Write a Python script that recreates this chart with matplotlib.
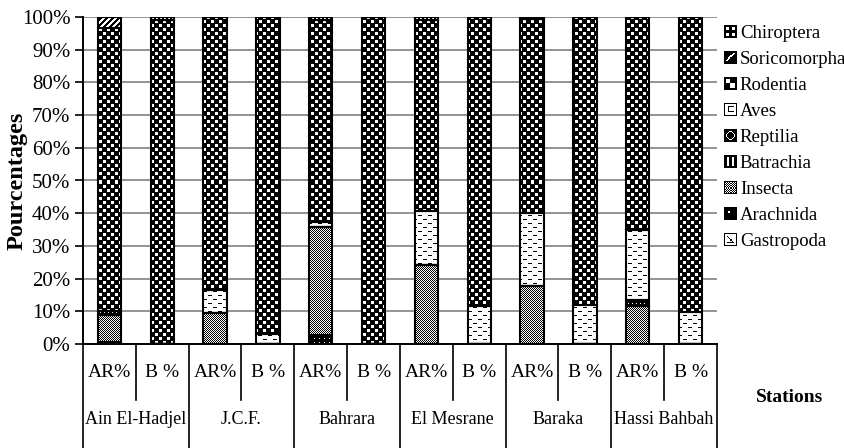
import matplotlib
matplotlib.use("Agg")
import matplotlib.pyplot as plt
import numpy as np
from matplotlib.patches import Rectangle
from matplotlib.path import Path
from matplotlib.legend_handler import HandlerBase
from matplotlib.image import BboxImage
from matplotlib.transforms import Bbox, TransformedBbox
from matplotlib.colors import Normalize

plt.rcParams['font.family'] = ['Liberation Serif', 'DejaVu Serif']

stations = ["Ain El-Hadjel", "J.C.F.", "Bahrara", "El Mesrane", "Baraka", "Hassi Bahbah"]
groups = ["AR%", "B %"]

# percentages, one value per bar (AR%, B% for each station)
gastropoda   = [0.0, 0.0, 0.0, 0.0, 0.0, 0.0, 0.0, 0.0, 0.0, 0.0, 0.0, 0.0]
arachnida    = [0.6, 0.0, 0.0, 0.0, 2.7, 0.0, 0.0, 0.0, 0.0, 0.0, 0.0, 0.0]
insecta      = [8.4, 0.0, 9.5, 0.0, 33.0, 0.0, 24.2, 0.0, 17.8, 0.0, 11.6, 0.0]
batrachia    = [0.0, 0.0, 0.0, 0.0, 0.0, 0.0, 0.0, 0.0, 0.0, 0.0, 0.0, 0.0]
reptilia     = [1.2, 0.0, 0.0, 0.0, 0.0, 0.0, 0.0, 0.0, 0.0, 0.0, 1.8, 0.0]
aves         = [0.0, 0.0, 7.0, 3.2, 1.5, 0.0, 16.5, 11.7, 22.2, 12.0, 21.5, 9.8]
rodentia     = [86.4, 99.0, 83.5, 96.8, 62.0, 100.0, 58.3, 88.3, 59.4, 88.0, 65.1, 90.2]
soricomorpha = [3.4, 0.0, 0.0, 0.0, 0.0, 0.0, 0.0, 0.0, 0.0, 0.0, 0.0, 0.0]
chiroptera   = [0.0, 1.0, 0.0, 0.0, 0.8, 0.0, 1.0, 0.0, 0.6, 0.0, 0.0, 0.0]

names = ["Gastropoda", "Arachnida", "Insecta", "Batrachia", "Reptilia",
         "Aves", "Rodentia", "Soricomorpha", "Chiroptera"]
series = [gastropoda, arachnida, insecta, batrachia, reptilia,
          aves, rodentia, soricomorpha, chiroptera]


# --- pixel textures (1 = white, 0 = black) ---
def checker(n):
    i, j = np.indices((2 * n, 2 * n))
    return ((i // n + j // n) % 2).astype(float)

def bold_checker():
    # white squares a bit smaller than the black ones
    t = np.zeros((8, 8))
    t[0:3, 4:7] = 1
    t[4:7, 0:3] = 1
    return t

def dashes():
    t = np.ones((8, 10))
    t[2, 0:4] = 0
    t[6, 5:9] = 0
    return t

def dots_on_black(step_y, step_x):
    t = np.zeros((step_y, step_x))
    t[1, 1] = 1
    return t

def stripes():
    i, j = np.indices((6, 6))
    return ((i + j) % 6 >= 3).astype(float)

def grid_tile():
    t = np.zeros((4, 4))
    t[1:3, 1:3] = 1
    return t

tiles = {
    "Gastropoda": dashes(),
    "Arachnida": dots_on_black(4, 5),
    "Insecta": checker(1),
    "Batrachia": np.array([[0, 1, 0, 0]] * 2, dtype=float),
    "Reptilia": dots_on_black(3, 4),
    "Aves": dashes(),
    "Rodentia": bold_checker(),
    "Soricomorpha": stripes(),
    "Chiroptera": grid_tile(),
}


# --- legend icons ---
def icon(name):
    a = np.ones((12, 12))
    if name == "Chiroptera":
        a[:] = 0
        a[2:5, 2:5] = 1; a[2:5, 7:10] = 1; a[7:10, 2:5] = 1; a[7:10, 7:10] = 1
    elif name == "Soricomorpha":
        a[:] = 0
        for k in range(3, 10):
            a[12 - k - 1, k - 1:k + 1] = 1
    elif name == "Rodentia":
        a[:] = 0
        a[2:6, 2:6] = 1; a[6:10, 6:10] = 1
    elif name == "Aves":
        a[[0, 11], :] = 0; a[:, [0, 11]] = 0
        a[3:8, 4:9] = 0; a[4:7, 5:11] = 1
    elif name == "Reptilia":
        a[:] = 0
        for k in range(4):
            a[2 + k, 5 - k] = a[2 + k, 6 + k] = 1
            a[9 - k, 5 - k] = a[9 - k, 6 + k] = 1
    elif name == "Batrachia":
        a[:] = 0
        a[2:10, 3:5] = 1; a[2:10, 7:9] = 1
    elif name == "Insecta":
        i, j = np.indices((12, 12))
        a[:] = (i + j) % 2
        a[[0, 11], :] = 0; a[:, [0, 11]] = 0
    elif name == "Arachnida":
        a[:] = 0
        a[4:6, 4:6] = 1
    elif name == "Gastropoda":
        a[[0, 11], :] = 0; a[:, [0, 11]] = 0
        for k in range(3, 9):
            a[k, k] = 0
        a[8, 3:9] = 0
    return a


class IconHandler(HandlerBase):
    def create_artists(self, legend, orig_handle, xdescent, ydescent,
                       width, height, fontsize, trans):
        box = TransformedBbox(Bbox.from_bounds(-xdescent, -ydescent, width, height), trans)
        img = BboxImage(box, cmap="gray", norm=Normalize(0, 1), interpolation="nearest")
        img.set_data(icon(orig_handle.get_label()))
        return [img]


W, H = 845, 448
fig = plt.figure(figsize=(W / 100, H / 100), dpi=100)
ax = fig.add_axes([83 / W, 104 / H, 634 / W, 327 / H])

x = np.arange(len(arachnida))
ax.set_xlim(-0.5, len(x) - 0.5)
ax.set_ylim(0, 100)

ax_w, ax_h = 634, 327
bottom = np.zeros(len(x))
for name, vals in zip(names, series):
    vals = np.array(vals)
    bars = ax.bar(x, vals, 0.44, bottom=bottom, facecolor="none",
                  edgecolor="black", linewidth=1.5, zorder=3)
    shown = [b for b, v in zip(bars, vals) if v > 0]
    if shown:
        tile = tiles[name]
        reps = (ax_h // tile.shape[0] + 1, ax_w // tile.shape[1] + 1)
        tex = np.tile(tile, reps)[:ax_h, :ax_w]
        im = ax.imshow(tex, cmap="gray", vmin=0, vmax=1, interpolation="nearest",
                       extent=(-0.5, len(x) - 0.5, 0, 100), aspect="auto", zorder=2)
        path = Path.make_compound_path(
            *[b.get_patch_transform().transform_path(b.get_path()) for b in shown])
        im.set_clip_path(path, ax.transData)
    bottom += vals

ax.set_xlim(-0.5, len(x) - 0.5)
ax.set_ylim(0, 100)

ax.set_yticks(np.arange(0, 101, 10))
ax.set_yticklabels([f"{v}%" for v in range(0, 101, 10)], fontsize=15)
ax.tick_params(axis="y", direction="out", length=6, width=1.2, pad=3)
ax.set_xticks([])
ax.yaxis.grid(True, color="#8a8a8a", linewidth=1.3)
ax.set_axisbelow(True)
for s in ["top", "right"]:
    ax.spines[s].set_visible(False)
for s in ["left", "bottom"]:
    ax.spines[s].set_linewidth(1.4)

ax.set_ylabel("Pourcentages", fontweight="bold", fontsize=17.5)
ax.yaxis.set_label_coords((28 - 83) / 634, 0.5)

# category table under the axis
tr = ax.get_xaxis_transform()
for i in range(len(x) + 1):
    low = -0.36 if i % 2 == 0 else -0.171
    ax.plot([i - 0.5, i - 0.5], [0, low], transform=tr, color="black",
            linewidth=1.2, clip_on=False)
for i in x:
    ax.text(i, -0.086, groups[i % 2], transform=tr, ha="center", va="center", fontsize=14)
for k, st in enumerate(stations):
    ax.text(2 * k + 0.5, -0.232, st, transform=tr, ha="center", va="center", fontsize=13)

fig.text(790 / W, 1 - 397 / H, "Stations", ha="center", va="center",
         fontweight="bold", fontsize=14)

handles = [Rectangle((0, 0), 1, 1, label=n) for n in names][::-1]
ax.legend(handles=handles, labels=[h.get_label() for h in handles],
          handler_map={Rectangle: IconHandler()},
          loc="upper left", bbox_to_anchor=(724 / W, 1 - 25 / H),
          bbox_transform=fig.transFigure, frameon=False, fontsize=13.5,
          handlelength=0.65, handleheight=0.65, handletextpad=0.2,
          labelspacing=0.48, borderpad=0, borderaxespad=0)

fig.savefig("out.png", dpi=100)
